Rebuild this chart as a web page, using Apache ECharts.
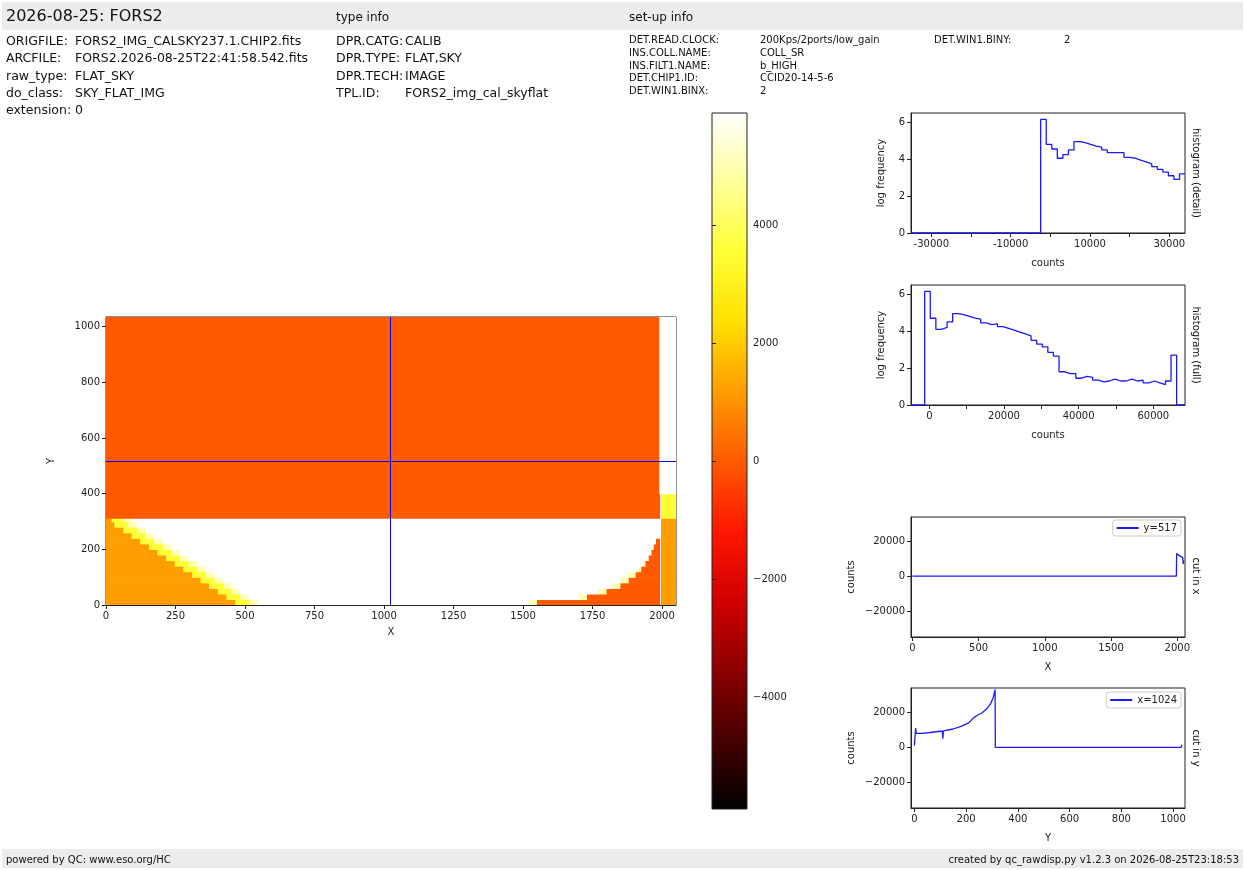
<!DOCTYPE html>
<html>
<head>
<meta charset="utf-8">
<script src="https://cdn.jsdelivr.net/npm/echarts@6/dist/echarts.min.js"></script>
<style>
 html, body { margin: 0; padding: 0; background: #fff; }
 #main { width: 1245px; height: 870px; }
</style>
</head>
<body>
<div id="main"></div>
<script>
 // image levels (counts) for each letter in the rows below
 var levelValues = { o: 0, a: 1200, y: 3500, l: 5000, w: 5900 };
 // frame rows: [y0, y1, runs "level+xEnd ..."]
 var imageRows = [
     [0, 20, 'a465 y515 l545 w1520 l1550 o1993 w1996 a2050'],
     [20, 40, 'a433 y483 l513 w1700 l1730 o1993 w1996 a2050'],
     [40, 60, 'a402 y452 l482 w1770 l1800 o1993 w1996 a2050'],
     [60, 80, 'a371 y421 l451 w1820 l1850 o1993 w1996 a2050'],
     [80, 100, 'a340 y390 l420 w1850 l1880 o1993 w1996 a2050'],
     [100, 120, 'a310 y360 l390 w1875 l1905 o1993 w1996 a2050'],
     [120, 140, 'a278 y328 l358 w1910 l1925 o1993 w1996 a2050'],
     [140, 160, 'a247 y297 l327 w1930 l1940 o1993 w1996 a2050'],
     [160, 180, 'a216 y266 l296 w1952 o1993 w1996 a2050'],
     [180, 200, 'a185 y235 l265 w1962 o1993 w1996 a2050'],
     [200, 220, 'a155 y205 l235 w1970 o1993 w1996 a2050'],
     [220, 240, 'a123 y173 l203 w1978 o1993 w1996 a2050'],
     [240, 260, 'a92 y142 l172 w1996 a2050'],
     [260, 280, 'a62 y112 l142 w1996 a2050'],
     [280, 300, 'a30 y80 l110 w1996 a2050'],
     [300, 312, 'a20 y60 l90 w1996 a2050'],
     [312, 400, 'o1993 w1996 y2050'],
     [400, 1035, 'o1990 w2050']
 ];
 var imageXMax = 2050;
 var imageYMax = 1035;
 var cutX = 1024;
 var cutY = 517;

 // histograms: log frequency per bin
 var detailStart = -2430, detailWidth = 1400;
 var detailValues = [6.15, 4.8, 4.55, 4.05, 4.25, 4.5, 4.95, 4.9, 4.8, 4.7, 4.65, 4.5, 4.35,
     4.35, 4.35, 4.1, 4.05, 3.95, 3.85, 3.75, 3.6, 3.45, 3.3, 3.1, 2.9, 3.2];
 var fullStart = -1250, fullWidth = 1500;
 var fullValues = [6.15, 4.7, 4.1, 4.2, 4.5, 4.95, 4.9, 4.8, 4.7, 4.65, 4.45, 4.35, 4.4, 4.25,
     4.15, 4.05, 3.95, 3.85, 3.75, 3.5, 3.3, 3.15, 2.85, 2.65, 1.8, 1.7, 1.7, 1.45, 1.55, 1.5,
     1.35, 1.25, 1.3, 1.4, 1.3, 1.3, 1.4, 1.3, 1.35, 1.2, 1.3, 1.2, 1.1, 1.3, 2.7];

 // cuts
 var cutXPoints = [[0, 0], [1993, 0], [1995, 13000], [2000, 12600], [2010, 12000], [2020, 11500],
     [2030, 11000], [2040, 10800], [2045, 7000], [2048, 9000]];
 var cutYPoints = [[0, 1000], [3, 1200], [5, 11000], [7, 8000], [30, 8000], [60, 8500], [100, 9200],
     [108, 9300], [110, 5000], [112, 9400], [150, 10500], [180, 12000], [210, 14000], [230, 17000],
     [245, 18500], [260, 19500], [280, 22000], [295, 25000], [305, 28500], [312, 33000], [313, 0],
     [1030, 0], [1034, 1500]];

 // tick labels
 var imgXTicks = [0, 250, 500, 750, 1000, 1250, 1500, 1750, 2000];
 var imgYTicks = [0, 200, 400, 600, 800, 1000];
 var cbarTicks = [-4000, -2000, 0, 2000, 4000];
 var detailTicks = [-30000, -20000, -10000, 0, 10000, 20000, 30000];
 var detailLabels = [-30000, -10000, 10000, 30000];
 var fullTicks = [0, 10000, 20000, 30000, 40000, 50000, 60000];
 var fullLabels = [0, 20000, 40000, 60000];
 var logTicks = [0, 2, 4, 6];
 var cutCountTicks = [-20000, 0, 20000];
 var cutXTicks = [0, 500, 1000, 1500, 2000];
 var cutYTicks = [0, 200, 400, 600, 800, 1000];

 var hotColors = ['#000000', '#460000', '#8c0000', '#d10000', '#ff1700', '#ff5a00', '#ff9d00',
     '#ffe000', '#ffff36', '#ffff9b', '#ffffff'];

 var FONT = 'DejaVu Sans';
 var BLUE = '#1a1aff';

 function imageData() {
     var out = [];
     imageRows.forEach(function (r) {
         var x0 = 0;
         r[2].split(' ').forEach(function (run) {
             var x1 = +run.slice(1);
             out.push([x0, x1, r[0], r[1], levelValues[run.charAt(0)]]);
             x0 = x1;
         });
     });
     return out;
 }

 function stepLine(start, width, values, lo, hi) {
     var pts = [[lo, 0], [start, 0]];
     values.forEach(function (v, i) {
         pts.push([start + i * width, v]);
         pts.push([start + (i + 1) * width, v]);
     });
     var end = start + values.length * width;
     if (hi > end) { pts.push([end, 0]); pts.push([hi, 0]); }
     return pts;
 }

 function plain(v) { return String(v); }
 function minus(v) { return v < 0 ? '\u2212' + (-v) : String(v); }

 function valAxis(gi, min, max, ticks, labels, fmt, extra) {
     var a = {
         type: 'value', gridIndex: gi, min: min, max: max, scale: true,
         axisLine: { show: true, onZero: false, lineStyle: { color: '#222' } },
         axisTick: { show: true, length: 4, customValues: ticks, lineStyle: { color: '#222' } },
         axisLabel: { customValues: labels || ticks, formatter: fmt || plain, fontFamily: FONT, fontSize: 10, color: '#222', margin: 6 },
         splitLine: { show: false },
         nameTextStyle: { fontFamily: FONT, fontSize: 10, color: '#222' }
     };
     for (var k in extra) a[k] = extra[k];
     return a;
 }

 function gridBox(l, t, w, h) {
     return { left: l, top: t, width: w, height: h, show: true, borderColor: '#222', borderWidth: 1, backgroundColor: 'transparent' };
 }

 function txt(x, y, s, size, extra) {
     var o = { type: 'text', left: x, top: y, silent: true,
         style: { text: s, fontFamily: FONT, fontSize: size || 12.5, fill: '#111' } };
     for (var k in extra) o[k] = extra[k];
     return o;
 }

 function rtxt(x, y, s) {
     // rotated text reading top to bottom
     return { type: 'text', x: x, y: y, rotation: -Math.PI / 2, silent: true,
         style: { text: s, fontFamily: FONT, fontSize: 10, fill: '#111', align: 'center', verticalAlign: 'middle' } };
 }

 var chart = echarts.init(document.getElementById('main'));

 var graphics = [
     { type: 'rect', shape: { x: 2, y: 2, width: 1241, height: 28 }, style: { fill: '#ececec' }, silent: true },
     { type: 'rect', shape: { x: 2, y: 849, width: 1241, height: 19 }, style: { fill: '#ececec' }, silent: true },
     txt(6, 9, '2026-08-25: FORS2', 16),
     txt(336, 12, 'type info', 12),
     txt(629, 12, 'set-up info', 12),
     txt(6, 35, 'ORIGFILE:'), txt(75, 35, 'FORS2_IMG_CALSKY237.1.CHIP2.fits'),
     txt(6, 52, 'ARCFILE:'), txt(75, 52, 'FORS2.2026-08-25T22:41:58.542.fits'),
     txt(6, 70, 'raw_type:'), txt(75, 70, 'FLAT_SKY'),
     txt(6, 87, 'do_class:'), txt(75, 87, 'SKY_FLAT_IMG'),
     txt(6, 104, 'extension:'), txt(75, 104, '0'),
     txt(336, 35, 'DPR.CATG:'), txt(405, 35, 'CALIB'),
     txt(336, 52, 'DPR.TYPE:'), txt(405, 52, 'FLAT,SKY'),
     txt(336, 70, 'DPR.TECH:'), txt(405, 70, 'IMAGE'),
     txt(336, 87, 'TPL.ID:'), txt(405, 87, 'FORS2_img_cal_skyflat'),
     txt(629, 35, 'DET.READ.CLOCK:', 10), txt(760, 35, '200Kps/2ports/low_gain', 10),
     txt(629, 48, 'INS.COLL.NAME:', 10), txt(760, 48, 'COLL_SR', 10),
     txt(629, 61, 'INS.FILT1.NAME:', 10), txt(760, 61, 'b_HIGH', 10),
     txt(629, 73, 'DET.CHIP1.ID:', 10), txt(760, 73, 'CCID20-14-5-6', 10),
     txt(629, 86, 'DET.WIN1.BINX:', 10), txt(760, 86, '2', 10),
     txt(934, 35, 'DET.WIN1.BINY:', 10), txt(1064, 35, '2', 10),
     txt(6, 855, 'powered by QC: www.eso.org/HC', 10),
     { type: 'text', right: 6, top: 855, silent: true,
       style: { text: 'created by qc_rawdisp.py v1.2.3 on 2026-08-25T23:18:53', fontFamily: FONT, fontSize: 10, fill: '#111' } },
     {
         type: 'rect', shape: { x: 712, y: 113, width: 35, height: 696 }, silent: true,
         style: {
             stroke: '#222', lineWidth: 1,
             fill: new echarts.graphic.LinearGradient(0, 1, 0, 0, hotColors.map(function (c, i) {
                 return { offset: i / (hotColors.length - 1), color: c };
             }))
         }
     },
     rtxt(1196, 173, 'histogram (detail)'),
     rtxt(1196, 345, 'histogram (full)'),
     rtxt(1196, 576, 'cut in x'),
     rtxt(1196, 748, 'cut in y')
 ];

 var option = {
     animation: false,
     backgroundColor: '#fff',
     graphic: graphics,
     visualMap: {
         show: false, type: 'continuous', min: -5900, max: 5900, dimension: 4, seriesIndex: 0,
         inRange: { color: hotColors }
     },
     legend: [
         { data: ['y=517'], right: 64, top: 520, icon: 'rect', itemWidth: 22, itemHeight: 2, itemGap: 4,
           borderColor: '#ccc', borderWidth: 1, borderRadius: 3, padding: [3, 4], backgroundColor: '#fff',
           textStyle: { fontFamily: FONT, fontSize: 10, color: '#222' } },
         { data: ['x=1024'], right: 64, top: 692, icon: 'rect', itemWidth: 22, itemHeight: 2, itemGap: 4,
           borderColor: '#ccc', borderWidth: 1, borderRadius: 3, padding: [3, 4], backgroundColor: '#fff',
           textStyle: { fontFamily: FONT, fontSize: 10, color: '#222' } }
     ],
     grid: [
         gridBox(106, 317, 570, 288),
         { left: 712, top: 113, width: 35, height: 696, show: false },
         gridBox(911, 113, 274, 120),
         gridBox(911, 285, 274, 120),
         gridBox(911, 517, 274, 120),
         gridBox(911, 688, 274, 120)
     ],
     xAxis: [
         valAxis(0, 0, imageXMax, imgXTicks, null, null, { name: 'X', nameLocation: 'middle', nameGap: 22 }),
         { type: 'value', gridIndex: 1, show: false, min: 0, max: 1 },
         valAxis(2, -35120, 33960, detailTicks, detailLabels, null, { name: 'counts', nameLocation: 'middle', nameGap: 25 }),
         valAxis(3, -4910, 68490, fullTicks, fullLabels, null, { name: 'counts', nameLocation: 'middle', nameGap: 25 }),
         valAxis(4, -10, 2058, cutXTicks, null, null, { name: 'X', nameLocation: 'middle', nameGap: 25 }),
         valAxis(5, -13, 1046, cutYTicks, null, null, { name: 'Y', nameLocation: 'middle', nameGap: 25 })
     ],
     yAxis: [
         valAxis(0, 0, imageYMax, imgYTicks, null, null, { name: 'Y', nameLocation: 'middle', nameGap: 50 }),
         valAxis(1, -5900, 5900, cbarTicks, null, minus, { position: 'right', axisLine: { show: false } }),
         valAxis(2, 0, 6.5, logTicks, null, null, { name: 'log frequency', nameLocation: 'middle', nameGap: 25 }),
         valAxis(3, 0, 6.5, logTicks, null, null, { name: 'log frequency', nameLocation: 'middle', nameGap: 25 }),
         valAxis(4, -35000, 34000, cutCountTicks, null, minus, { name: 'counts', nameLocation: 'middle', nameGap: 55 }),
         valAxis(5, -34600, 33900, cutCountTicks, null, minus, { name: 'counts', nameLocation: 'middle', nameGap: 55 })
     ],
     series: [
         {
             type: 'custom', xAxisIndex: 0, yAxisIndex: 0, data: imageData(), silent: true, clip: true,
             encode: { x: [0, 1], y: [2, 3] },
             renderItem: function (params, api) {
                 var p0 = api.coord([api.value(0), api.value(3)]);
                 var p1 = api.coord([api.value(1), api.value(2)]);
                 return {
                     type: 'rect',
                     shape: { x: p0[0], y: p0[1], width: p1[0] - p0[0] + 0.6, height: p1[1] - p0[1] + 0.6 },
                     style: { fill: api.visual('color') }
                 };
             }
         },
         {
             type: 'line', xAxisIndex: 0, yAxisIndex: 0, data: [[cutX, cutY]], showSymbol: false, silent: true,
             lineStyle: { width: 0 },
             markLine: {
                 silent: true, symbol: 'none', label: { show: false },
                 lineStyle: { color: '#0000ff', width: 1, type: 'solid' },
                 data: [{ xAxis: cutX }, { yAxis: cutY }]
             }
         },
         { type: 'line', xAxisIndex: 2, yAxisIndex: 2, showSymbol: false, silent: true,
           lineStyle: { color: BLUE, width: 1.3 }, data: stepLine(detailStart, detailWidth, detailValues, -35120, 33960) },
         { type: 'line', xAxisIndex: 3, yAxisIndex: 3, showSymbol: false, silent: true,
           lineStyle: { color: BLUE, width: 1.3 }, data: stepLine(fullStart, fullWidth, fullValues, -4910, 68490) },
         { name: 'y=517', type: 'line', xAxisIndex: 4, yAxisIndex: 4, showSymbol: false, silent: true,
           color: BLUE, lineStyle: { color: BLUE, width: 1.3 }, data: cutXPoints },
         { name: 'x=1024', type: 'line', xAxisIndex: 5, yAxisIndex: 5, showSymbol: false, silent: true,
           color: BLUE, lineStyle: { color: BLUE, width: 1.3 }, data: cutYPoints }
     ]
 };

 chart.setOption(option);
</script>
</body>
</html>
